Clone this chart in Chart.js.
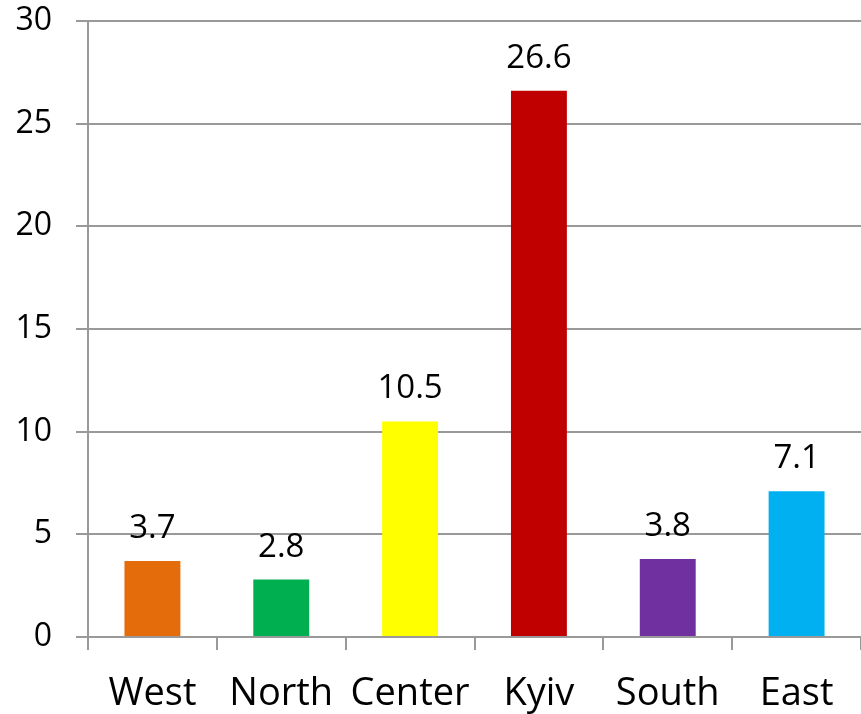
<!DOCTYPE html>
<html>
<head>
<meta charset="utf-8">
<script src="https://cdn.jsdelivr.net/npm/chart.js@4/dist/chart.umd.min.js"></script>
<style>
  html, body { margin: 0; padding: 0; background: #fff; }
  #wrap { width: 861px; height: 714px; }
</style>
</head>
<body>
<div id="wrap"><canvas id="chart" width="861" height="714"></canvas></div>
<script>
// Data
const regions = ['West', 'North', 'Center', 'Kyiv', 'South', 'East'];
const shares = [3.7, 2.8, 10.5, 26.6, 3.8, 7.1];
const barColors = ['#E46C0A', '#00B050', '#FFFF00', '#C00000', '#7030A0', '#00B0F0'];
const yTicks = [0, 5, 10, 15, 20, 25, 30];

const FONT = "'Open Sans', 'DejaVu Sans', sans-serif";
const GRID = '#999999';

// value labels above each bar
const valueLabels = {
    id: 'valueLabels',
    afterDatasetsDraw(chart) {
        const ctx = chart.ctx;
        const meta = chart.getDatasetMeta(0);
        ctx.save();
        ctx.fillStyle = '#000';
        ctx.font = '33px ' + FONT;
        ctx.textAlign = 'center';
        ctx.textBaseline = 'alphabetic';
        meta.data.forEach((bar, i) => {
            ctx.fillText(shares[i].toFixed(1), bar.x, bar.y - 23);
        });
        ctx.restore();
    }
};

new Chart(document.getElementById('chart'), {
    type: 'bar',
    data: {
        labels: regions,
        datasets: [{
            data: shares,
            backgroundColor: barColors,
            borderWidth: 0,
            barPercentage: 0.434,
            categoryPercentage: 1
        }]
    },
    options: {
        responsive: false,
        animation: false,
        layout: { padding: 0 },
        plugins: { legend: { display: false }, tooltip: { enabled: false } },
        scales: {
            x: {
                z: 1,
                afterFit: s => { s.height = 77; s.paddingLeft = 0; s.paddingRight = 0; },
                grid: { drawOnChartArea: false, color: GRID, lineWidth: 2, tickLength: 13, offset: true },
                border: { color: GRID, width: 2 },
                ticks: { color: '#000', font: { family: FONT, size: 38 }, padding: 21, maxRotation: 0, autoSkip: false }
            },
            y: {
                min: 0,
                max: 30,
                afterBuildTicks: s => { s.ticks = yTicks.map(v => ({ value: v })); },
                afterFit: s => { s.width = 88; s.paddingTop = 21; s.paddingBottom = 0; },
                grid: { color: GRID, lineWidth: 2, tickLength: 12 },
                border: { color: GRID, width: 2 },
                ticks: { color: '#000', font: { family: FONT, size: 32 }, padding: 24 }
            }
        }
    },
    plugins: [valueLabels]
});
</script>
</body>
</html>
